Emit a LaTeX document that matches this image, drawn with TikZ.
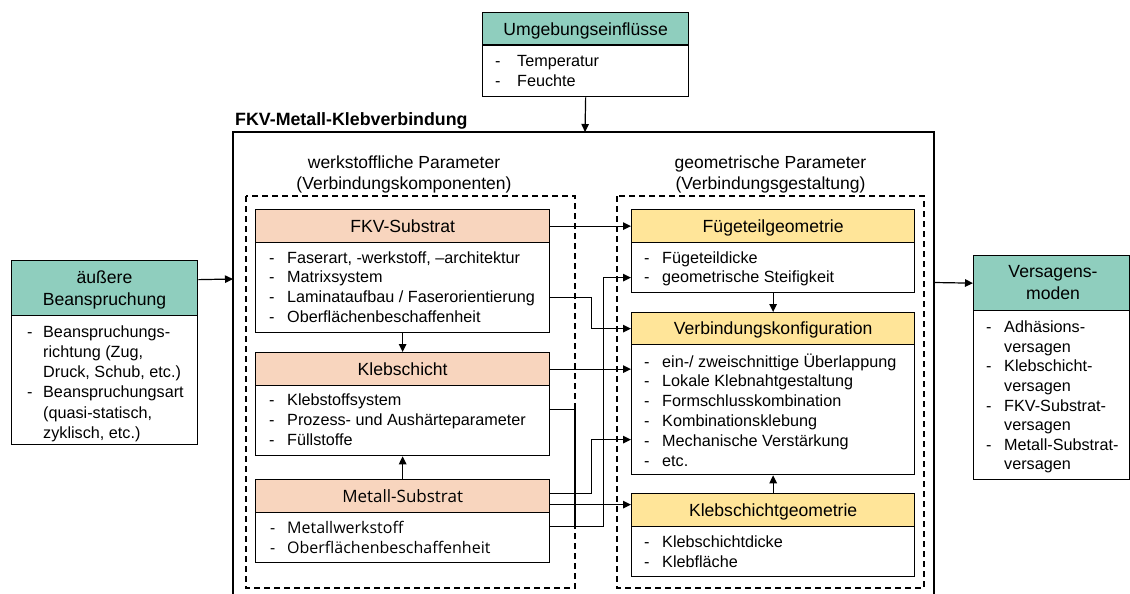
\documentclass[tikz,border=0pt]{standalone}
\usepackage{fontspec}
\setmainfont{Liberation Sans}
\newfontfamily\frut{Open Sans}
\usetikzlibrary{arrows.meta,calc}
\definecolor{tealhdr}{RGB}{143,206,190}
\definecolor{peach}{RGB}{248,213,190}
\definecolor{yellhdr}{RGB}{255,229,153}
\newcommand{\bodyf}{\fontsize{16.2}{19.8}\selectfont}
\newcommand{\hdrf}{\fontsize{17.6}{21}\selectfont}
\newcommand{\frutbody}{\frut\fontsize{16}{19.8}\selectfont}
\newcommand{\fruthdr}{\frut\fontsize{17}{21}\selectfont}
\begin{document}
\begin{tikzpicture}[x=1pt,y=-1pt,
  box/.style={draw, line width=1.3pt, inner sep=0pt, anchor=north west},
  hdr/.style={box, font=\hdrf, text height=12.6pt, text depth=0pt},
  lst/.style={anchor=base west, inner sep=0pt, font=\bodyf},
  ttl/.style={anchor=base, inner sep=0pt},
  conn/.style={line width=1.2pt},
  arr/.style={conn, -{Triangle[length=8pt,width=7.5pt]}},
  grp/.style={draw, line width=1.2pt, dash pattern=on 6pt off 4pt}
]
\useasboundingbox (0,0) rectangle (1130,594);

% outer frame (open at bottom)
\draw[line width=1.2pt] (233,594) -- (233,132) -- (934,132) -- (934,594);
\node[anchor=base west, inner sep=0pt, font=\fontsize{17.8}{21}\selectfont\bfseries] (title) at (235,125) {FKV-Metall-Klebverbindung};
\coordinate (outerT) at (585,132);
\coordinate (outerL) at (233,279);
\coordinate (outerR) at (934,282.5);

% groups
\draw[grp] (246,196) rectangle (575,588);
\draw[grp] (617,196) rectangle (924,588);
\node[ttl, font=\fontsize{17.5}{21}\selectfont] (gl) at (404,168.5) {\begin{tabular}[t]{@{}c@{}}werkstoffliche Parameter\\(Verbindungskomponenten)\end{tabular}};
\node[ttl, font=\fontsize{17.5}{21}\selectfont] (gr) at (770.5,168.5) {\begin{tabular}[t]{@{}c@{}}geometrische Parameter\\(Verbindungsgestaltung)\end{tabular}};

% Umgebungseinfluesse
\node[hdr, fill=tealhdr, minimum width=206pt, minimum height=32.5pt] (umgh) at (482,12) {Umgebungseinflüsse};
\node[box, fill=white, minimum width=206pt, minimum height=51.5pt] (umgb) at (482,44.5) {};
\node[lst] (umgl) at (495,66.7) {\fontsize{16.2}{19.3}\selectfont\begin{tabular}[t]{@{}p{22pt}@{}l@{}}-&Temperatur\\-&Feuchte\end{tabular}};

% aeussere Beanspruchung
\node[box, fill=tealhdr, minimum width=186pt, minimum height=55pt] (aussh) at (11,260) {};
\node[ttl, font=\fontsize{17.6}{21.7}\selectfont] (ausst) at (104.5,283.3) {\begin{tabular}[t]{@{}c@{}}äußere\\Beanspruchung\end{tabular}};
\node[box, fill=white, minimum width=186pt, minimum height=129pt] (aussb) at (11,315) {};
\node[lst] (aussl) at (27,337.3) {\fontsize{16.2}{20.2}\selectfont\begin{tabular}[t]{@{}p{16pt}@{}l@{}}-&Beanspruchungs-\\&richtung (Zug,\\&Druck, Schub, etc.)\\-&Beanspruchungsart\\&(quasi-statisch,\\&zyklisch, etc.)\end{tabular}};

% Versagensmoden
\node[box, fill=tealhdr, minimum width=156pt, minimum height=55pt] (versh) at (973,255) {};
\node[ttl, font=\fontsize{17.6}{22}\selectfont] (verst) at (1053,277.3) {\begin{tabular}[t]{@{}c@{}}Versagens-\\moden\end{tabular}};
\node[box, fill=white, minimum width=156pt, minimum height=169pt] (versb) at (973,310) {};
\node[lst] (versl) at (986,332.7) {\fontsize{16.2}{19.6}\selectfont\begin{tabular}[t]{@{}p{18pt}@{}l@{}}-&Adhäsions-\\&versagen\\-&Klebschicht-\\&versagen\\-&FKV-Substrat-\\&versagen\\-&Metall-Substrat-\\&versagen\end{tabular}};

% FKV-Substrat
\node[hdr, fill=peach, minimum width=294pt, minimum height=33pt] (fkvh) at (255,209) {FKV-Substrat};
\node[box, fill=white, minimum width=294pt, minimum height=90pt] (fkvb) at (255,242) {};
\node[lst] (fkvl) at (269,263) {\begin{tabular}[t]{@{}p{18pt}@{}l@{}}-&Faserart, -werkstoff, --architektur\\-&Matrixsystem\\-&Laminataufbau / Faserorientierung\\-&Oberflächenbeschaffenheit\end{tabular}};

% Klebschicht
\node[hdr, fill=peach, minimum width=294pt, minimum height=33pt] (klebh) at (255,352) {Klebschicht};
\node[box, fill=white, minimum width=294pt, minimum height=70pt] (klebb) at (255,385) {};
\node[lst] (klebl) at (269,405.5) {\begin{tabular}[t]{@{}p{18pt}@{}l@{}}-&Klebstoffsystem\\-&Prozess- und Aushärteparameter\\-&Füllstoffe\end{tabular}};

% Metall-Substrat
\node[hdr, fill=peach, minimum width=294pt, minimum height=33pt, font=\fruthdr] (meth) at (255,479) {Metall-Substrat};
\node[box, fill=white, minimum width=294pt, minimum height=50pt] (metb) at (255,512) {};
\node[lst, font=\frutbody] (metl) at (270,533.3) {\begin{tabular}[t]{@{}p{17pt}@{}l@{}}-&Metallwerkstoff\\-&Oberflächenbeschaffenheit\end{tabular}};

% Fuegeteilgeometrie
\node[hdr, fill=yellhdr, minimum width=283pt, minimum height=33pt] (fuegh) at (631,209) {Fügeteilgeometrie};
\node[box, fill=white, minimum width=283pt, minimum height=50pt] (fuegb) at (631,242) {};
\node[lst] (fuegl) at (644,263) {\begin{tabular}[t]{@{}p{18pt}@{}l@{}}-&Fügeteildicke\\-&geometrische Steifigkeit\end{tabular}};

% Verbindungskonfiguration
\node[hdr, fill=yellhdr, minimum width=283pt, minimum height=32pt] (vkh) at (631,312) {Verbindungskonfiguration};
\node[box, fill=white, minimum width=283pt, minimum height=130pt] (vkb) at (631,344) {};
\node[lst] (vkl) at (644,367) {\begin{tabular}[t]{@{}p{18pt}@{}l@{}}-&ein-/ zweischnittige Überlappung\\-&Lokale Klebnahtgestaltung\\-&Formschlusskombination\\-&Kombinationsklebung\\-&Mechanische Verstärkung\\-&etc.\end{tabular}};

% Klebschichtgeometrie
\node[hdr, fill=yellhdr, minimum width=283pt, minimum height=33pt] (klgh) at (631,493) {Klebschichtgeometrie};
\node[box, fill=white, minimum width=283pt, minimum height=50pt] (klgb) at (631,526) {};
\node[lst] (klgl) at (644,547.3) {\begin{tabular}[t]{@{}p{18pt}@{}l@{}}-&Klebschichtdicke\\-&Klebfläche\end{tabular}};

% connectors
\draw[arr] (umgb.south) -- (outerT);
\draw[arr] ([yshift=8.5pt]aussh.east) -- (outerL);
\draw[arr] (outerR) -- (versh.west);

\draw[arr] (fkvb.south) -- (klebh.north);
\draw[arr] (meth.north) -- (klebb.south);
\draw[arr] (fuegb.south) -- (vkh.north);
\draw[arr] (klgh.north) -- (vkb.south);

\draw[arr] (fkvh.east) -- (fuegh.west);
\draw[arr] ([yshift=-10pt]fkvb.east) -- ++(41,0) |- (vkh.west);
\draw[arr] (klebh.east) -- (klebh.east -| vkb.west);
\coordinate (jn) at (575,526);
\draw[conn] ([yshift=11pt]klebb.east) -| (jn);
\draw[arr] ([yshift=11pt]metb.east) -- ++(53,0) |- ([yshift=-10pt]fuegb.west);
\draw[arr] ([yshift=2.5pt]meth.east) -- ++(41,0) |- ([yshift=-30pt]vkb.west);
\coordinate (m2) at ([yshift=-8.5pt]meth.east);
\draw[arr] (m2) -- (m2 -| klgh.west);
\end{tikzpicture}
\end{document}
